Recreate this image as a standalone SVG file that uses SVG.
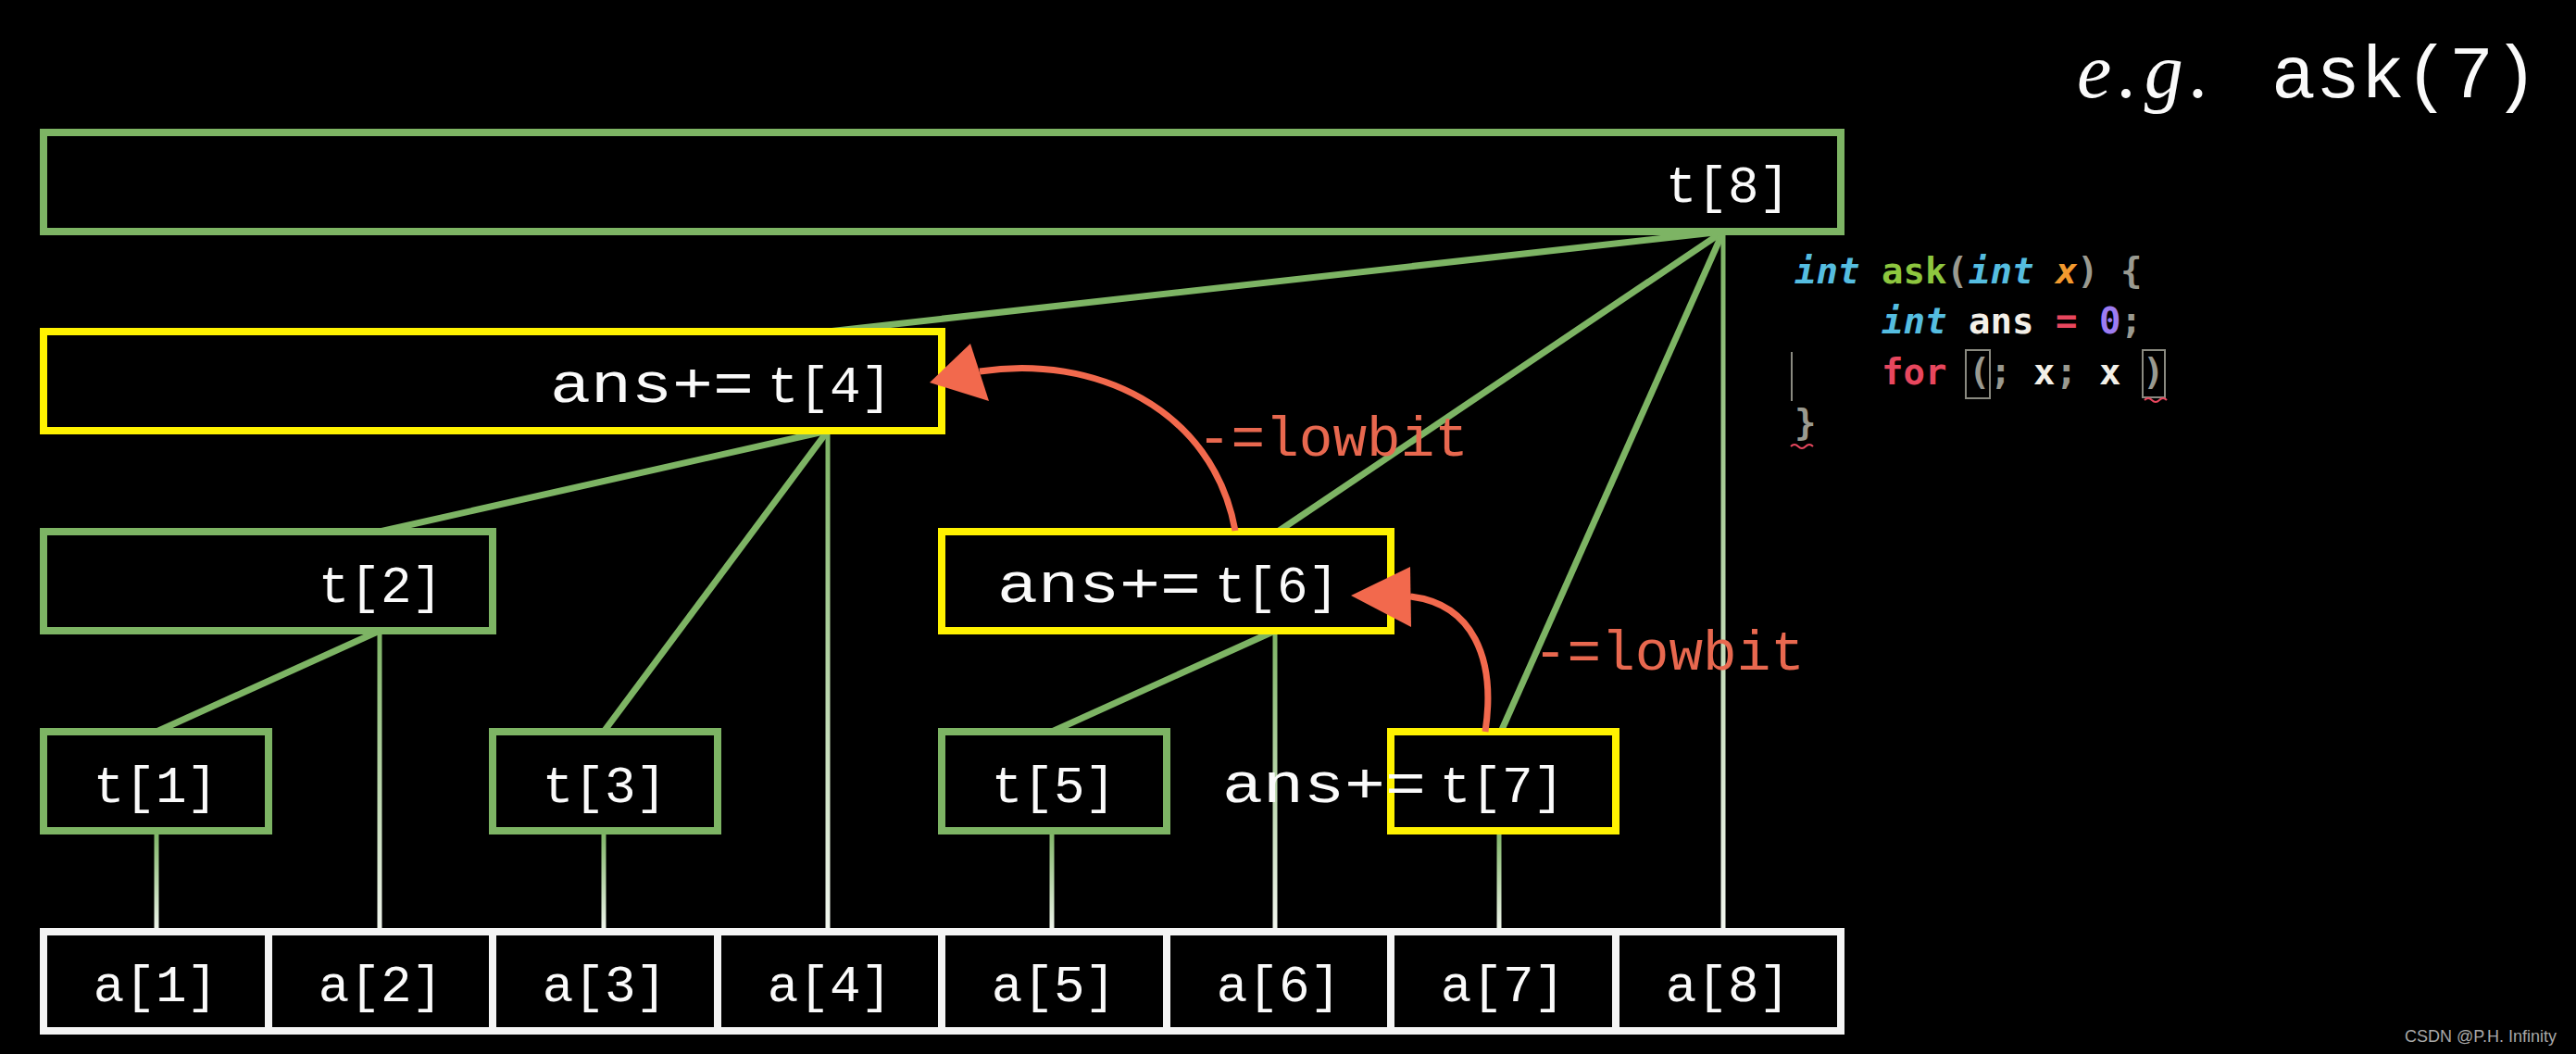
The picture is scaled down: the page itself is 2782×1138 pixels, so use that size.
<svg xmlns="http://www.w3.org/2000/svg" width="2782" height="1138" viewBox="0 0 2782 1138">
<style>
.g{fill:#000;stroke:#7db464;stroke-width:8}
.y{fill:#000;stroke:#fff200;stroke-width:8}
.w{fill:#000;stroke:#f4f4f4;stroke-width:8}
.lbl{font-family:"Liberation Mono","Courier New",monospace;font-size:56px;fill:#fafafa;text-anchor:middle}
.ans{font-family:"Liberation Mono","Courier New",monospace;font-size:62px;fill:#fafafa;text-anchor:end}
.edge{stroke:#7db464;stroke-width:7;fill:none;stroke-linecap:butt}
.red{stroke:#f2694d;stroke-width:7;fill:none}
.redtxt{font-family:"Liberation Mono","Courier New",monospace;font-size:61px;fill:#e8684f}
.code{font-family:"DejaVu Sans Mono",monospace;font-size:39px;font-weight:bold}
.it{font-style:italic}
</style>
<defs>
<linearGradient id="fade" x1="0" y1="0" x2="0" y2="1">
<stop offset="0" stop-color="#7db464"/>
<stop offset="1" stop-color="#f2f6ef"/>
</linearGradient>
</defs>
<rect x="0" y="0" width="2782" height="1138" fill="#000"/>

<g id="connectors">
<path class="edge" d="M1861,250 L894,358"/>
<path class="edge" d="M1861,250 L1380,574" stroke-width="6"/>
<path class="edge" d="M1861,250 L1621,790" stroke-width="6"/>
<path class="edge" d="M894,465 L410,574"/>
<path class="edge" d="M894,465 L652,790" stroke-width="6"/>
<path class="edge" d="M410,681 L169,790"/>
<path class="edge" d="M1377,681 L1136,790"/>
<rect x="1858.5" y="250" width="5" height="756" fill="url(#fade)"/>
<rect x="891.5" y="465" width="5" height="541" fill="url(#fade)"/>
<rect x="407.5" y="681" width="5" height="325" fill="url(#fade)"/>
<rect x="1374.5" y="681" width="5" height="325" fill="url(#fade)"/>
<rect x="166.5" y="897" width="5" height="109" fill="url(#fade)"/>
<rect x="649.5" y="897" width="5" height="109" fill="url(#fade)"/>
<rect x="1133.5" y="897" width="5" height="109" fill="url(#fade)"/>
<rect x="1616.5" y="897" width="5" height="109" fill="url(#fade)"/>
</g>

<g id="t8"><rect class="g" x="47" y="143" width="1941" height="107"/><text class="lbl" x="1866" y="218">t[8]</text></g>
<g id="t4"><rect class="y" x="47" y="358" width="970" height="107"/><text class="ans" x="814" y="434" textLength="220" lengthAdjust="spacingAndGlyphs">ans+=</text><text class="lbl" x="896" y="434">t[4]</text></g>
<g id="t2"><rect class="g" x="47" y="574" width="485" height="107"/><text class="lbl" x="411" y="650">t[2]</text></g>
<g id="t6"><rect class="y" x="1017" y="574" width="485" height="107"/><text class="ans" x="1297" y="650" textLength="220" lengthAdjust="spacingAndGlyphs">ans+=</text><text class="lbl" x="1379" y="650">t[6]</text></g>
<g id="t1"><rect class="g" x="47" y="790" width="243" height="107"/><text class="lbl" x="168" y="866">t[1]</text></g>
<g id="t3"><rect class="g" x="532" y="790" width="243" height="107"/><text class="lbl" x="653" y="866">t[3]</text></g>
<g id="t5"><rect class="g" x="1017" y="790" width="243" height="107"/><text class="lbl" x="1138" y="866">t[5]</text></g>
<g id="t7"><rect class="y" x="1502" y="790" width="243" height="107"/><text class="ans" x="1540" y="866" textLength="220" lengthAdjust="spacingAndGlyphs">ans+=</text><text class="lbl" x="1622" y="866">t[7]</text></g>

<g id="a1"><rect class="w" x="47" y="1006" width="243" height="107"/><text class="lbl" x="168" y="1081">a[1]</text></g>
<g id="a2"><rect class="w" x="290" y="1006" width="242" height="107"/><text class="lbl" x="411" y="1081">a[2]</text></g>
<g id="a3"><rect class="w" x="532" y="1006" width="243" height="107"/><text class="lbl" x="653" y="1081">a[3]</text></g>
<g id="a4"><rect class="w" x="775" y="1006" width="242" height="107"/><text class="lbl" x="896" y="1081">a[4]</text></g>
<g id="a5"><rect class="w" x="1017" y="1006" width="243" height="107"/><text class="lbl" x="1138" y="1081">a[5]</text></g>
<g id="a6"><rect class="w" x="1260" y="1006" width="242" height="107"/><text class="lbl" x="1381" y="1081">a[6]</text></g>
<g id="a7"><rect class="w" x="1502" y="1006" width="243" height="107"/><text class="lbl" x="1623" y="1081">a[7]</text></g>
<g id="a8"><rect class="w" x="1745" y="1006" width="243" height="107"/><text class="lbl" x="1866" y="1081">a[8]</text></g>

<g id="arrows">
<path class="red" d="M1334,573 C1310,440 1180,382 1058,401"/>
<polygon fill="#f2694d" points="1004,413 1048,371 1068,433"/>
<path class="red" d="M1604,790 C1616,710 1590,652 1523,644"/>
<polygon fill="#f2694d" points="1459,643 1523,612 1524,677"/>
<text class="redtxt" x="1293" y="492">-=lowbit</text>
<text class="redtxt" x="1656" y="723">-=lowbit</text>
</g>

<g id="title">
<text x="2243" y="105" font-family="Liberation Serif,serif" font-style="italic" font-size="84" fill="#fafafa" textLength="143" lengthAdjust="spacing">e.g.</text>
<text x="2453" y="105" font-family="Liberation Mono,monospace" font-size="80" fill="#fafafa">ask(7)</text>
</g>

<g id="code" class="code">
<text y="306"><tspan x="1938" class="it" fill="#55bde0">int</tspan><tspan x="2032" fill="#8dc63f">ask</tspan><tspan x="2102" fill="#9a9a90">(</tspan><tspan x="2126" class="it" fill="#55bde0">int</tspan><tspan x="2220" class="it" fill="#f39a2e">x</tspan><tspan x="2243" fill="#9a9a90">)</tspan><tspan x="2290" fill="#9a9a90">{</tspan></text>
<text y="360"><tspan x="2032" class="it" fill="#55bde0">int</tspan><tspan x="2126" fill="#f4f0e8">ans</tspan><tspan x="2220" fill="#e8475e">=</tspan><tspan x="2267" fill="#9d7cf2">0</tspan><tspan x="2290" fill="#9a9a90">;</tspan></text>
<text y="415"><tspan x="2032" fill="#e8475e">for</tspan><tspan x="2126" fill="#9a9a90">(</tspan><tspan x="2149" fill="#9a9a90">;</tspan><tspan x="2196" fill="#f4f0e8">x</tspan><tspan x="2220" fill="#9a9a90">;</tspan><tspan x="2267" fill="#f4f0e8">x</tspan><tspan x="2314" fill="#9a9a90">)</tspan></text>
<text y="470"><tspan x="1938" fill="#9a9a90">}</tspan></text>
<rect x="2123" y="378" width="26" height="52" fill="none" stroke="#8a8a80" stroke-width="2"/>
<rect x="2314" y="378" width="24" height="51" fill="none" stroke="#8a8a80" stroke-width="2"/>
<line x1="1935" y1="380" x2="1935" y2="433" stroke="#8a8a80" stroke-width="2"/>
<path d="M2316,432 q4,-4 8,0 t8,0 t8,0" fill="none" stroke="#e8475e" stroke-width="2"/>
<path d="M1934,482 q4,-4 8,0 t8,0 t8,0" fill="none" stroke="#e8475e" stroke-width="2"/>
</g>

<text x="2597" y="1125" font-family="Liberation Sans,Arial,sans-serif" font-size="18" fill="#a8a8a8">CSDN @P.H. Infinity</text>
</svg>
